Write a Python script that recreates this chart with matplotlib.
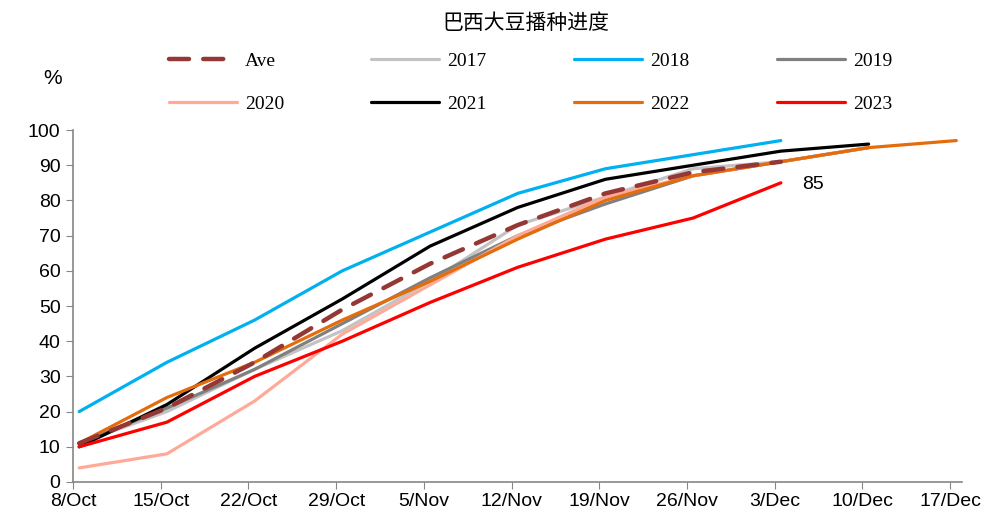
import numpy as np
import matplotlib.pyplot as plt

plt.rcParams['font.family'] = ['Liberation Sans', 'DejaVu Sans']

weeks = ['8/Oct', '15/Oct', '22/Oct', '29/Oct', '5/Nov', '12/Nov',
         '19/Nov', '26/Nov', '3/Dec', '10/Dec', '17/Dec']

ave = [11, 21, 34, 49, 62, 73, 82, 88, 91]
y2017 = [11, 20, 32, 43, 57, 73, 81, 89, 91, 95]
y2018 = [20, 34, 46, 60, 71, 82, 89, 93, 97]
y2019 = [11, 21, 32, 45, 58, 70, 79, 87, 91, 95]
y2020 = [4, 8, 23, 42, 56, 70, 81, 87, 91, 95]
y2021 = [10, 22, 38, 52, 67, 78, 86, 90, 94, 96]
y2022 = [11, 24, 34, 46, 57, 69, 80, 87, 91, 95, 97]
y2023 = [10, 17, 30, 40, 51, 61, 69, 75, 85]

series = [
    ('2017', y2017, '#c3c3c3'),
    ('2018', y2018, '#00b0f0'),
    ('2019', y2019, '#808080'),
    ('2020', y2020, '#ffaa98'),
    ('2021', y2021, '#000000'),
    ('2022', y2022, '#e46c0a'),
    ('2023', y2023, '#ff0000'),
]

fig = plt.figure(figsize=(9.95, 5.18), dpi=100)
ax = fig.add_axes([0.0734, 0.0695, 0.8936, 0.6795])

shift = 0.07  # points sit just right of the weekly ticks
lines = {}
for name, vals, col in series:
    x = np.arange(len(vals)) + shift
    lines[name], = ax.plot(x, vals, color=col, lw=2.3, solid_capstyle='round')

x = np.arange(len(ave)) + shift
lines['Ave'], = ax.plot(x, ave, color='#953735', lw=3.2, dashes=(4.5, 3.2),
                        dash_capstyle='round')

ax.annotate(str(y2023[-1]), (len(y2023) - 1 + shift, y2023[-1]),
            xytext=(15, -1), textcoords='offset points', fontsize=14,
            va='center', ha='left')

ax.set_xlim(0, 10.137)
ax.set_ylim(0, 100)
ax.set_xticks(range(len(weeks)))
ax.set_xticklabels(weeks, fontsize=14)
ax.set_yticks(range(0, 101, 10))
ax.tick_params(axis='y', labelsize=14, length=5, color='#868686', direction='out', pad=4)
ax.tick_params(axis='x', length=5, color='#868686', direction='out', pad=3)
for s in ['top', 'right']:
    ax.spines[s].set_visible(False)
for s in ['left', 'bottom']:
    ax.spines[s].set_color('#868686')
    ax.spines[s].set_linewidth(1.2)

fig.text(0.528, 0.955, '巴西大豆播种进度', ha='center', va='center', fontsize=15,
         family=['Noto Sans CJK SC'])
fig.text(0.053, 0.848, '%', ha='center', va='center', fontsize=15)

# legend fills column by column, so interleave the two rows
row1 = ['Ave', '2017', '2018', '2019']
row2 = ['2020', '2021', '2022', '2023']
order = [k for pair in zip(row1, row2) for k in pair]
fig.legend([lines[k] for k in order], order, loc='center', ncol=4,
           bbox_to_anchor=(0.533, 0.840), frameon=False,
           prop={'family': 'Liberation Serif', 'size': 14},
           handlelength=3.5, handletextpad=0.4, columnspacing=4.5,
           labelspacing=1.3)

fig.savefig('out.png', dpi=100)
